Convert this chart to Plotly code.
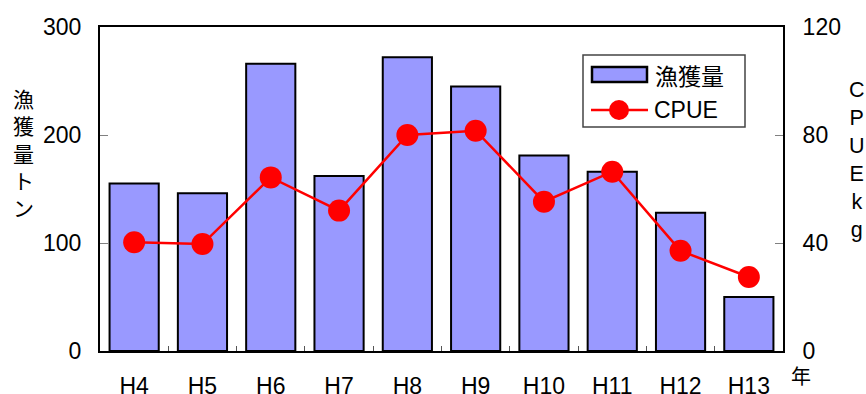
import plotly.graph_objects as go

years = ["H4", "H5", "H6", "H7", "H8", "H9", "H10", "H11", "H12", "H13"]
catch_t = [155, 146, 266, 162, 272, 245, 181, 166, 128, 50]
cpue_kg = [40.3, 39.6, 64.3, 52.0, 80.0, 81.6, 55.3, 66.4, 37.1, 27.4]

FONT = "Liberation Sans, Arial, sans-serif"
JP = "Noto Sans CJK JP, sans-serif"

PAGE_W, PAGE_H = 866, 394
# plot area in page pixels: x 100..783, y 27..351
L, R, T, B = 100, 783, 27, 351
W, H = R - L, B - T
def px(x):
    return (x - L) / W
def py(y):
    return (B - y) / H

fig = go.Figure()
fig.add_trace(go.Bar(
    x=years, y=catch_t, name="漁獲量",
    marker=dict(color="#9999FF", line=dict(color="black", width=2)),
    yaxis="y", showlegend=False,
))
fig.add_trace(go.Scatter(
    x=years, y=cpue_kg, name="CPUE", mode="lines+markers",
    line=dict(color="#FF0000", width=2.5),
    marker=dict(color="#FF0000", size=22),
    yaxis="y2", showlegend=False,
))

fig.update_layout(
    width=PAGE_W, height=PAGE_H,
    margin=dict(l=L, r=PAGE_W - R, t=T, b=PAGE_H - B, pad=0, autoexpand=False),
    paper_bgcolor="white", plot_bgcolor="white",
    bargap=0.28,
    font=dict(family=FONT, size=23, color="black"),
    xaxis=dict(
        type="category", range=[-0.5, len(years) - 0.5],
        showline=True, linecolor="black", linewidth=2,
        mirror=True, ticks="inside", ticklen=5, tickcolor="#555555",
        tickson="boundaries", showgrid=False, zeroline=False, automargin=False,
        tickfont=dict(size=23), ticklabelstandoff=13,
    ),
    yaxis=dict(
        range=[0, 300], dtick=100, showline=True, linecolor="black",
        linewidth=2, mirror=True, ticks="inside", ticklen=8,
        tickcolor="#808080", showgrid=False, zeroline=False, automargin=False,
        tickfont=dict(size=23), ticklabelstandoff=12,
    ),
    yaxis2=dict(
        range=[0, 120], dtick=40, overlaying="y", side="right",
        showline=True, linecolor="black", linewidth=2,
        ticks="inside", ticklen=8, tickcolor="#808080", automargin=False,
        showgrid=False, zeroline=False,
        tickfont=dict(size=23), ticklabelstandoff=13,
    ),
)

annotations = [
    dict(text="漁<br>獲<br>量<br>ト<br>ン", x=px(23), y=py(152), xref="paper", yref="paper",
         showarrow=False, xanchor="center", yanchor="middle",
         font=dict(family=JP, size=21, color="black")),
    dict(text="C<br>P<br>U<br>E<br>k<br>g", x=px(857), y=py(160), xref="paper", yref="paper",
         showarrow=False, xanchor="center", yanchor="middle",
         font=dict(family=FONT, size=21.5, color="black")),
    dict(text="年", x=px(801), y=py(376), xref="paper", yref="paper",
         showarrow=False, xanchor="center", yanchor="middle",
         font=dict(family=JP, size=20, color="black")),
    dict(text="漁獲量", x=px(653), y=py(75), xref="paper", yref="paper",
         showarrow=False, xanchor="left", yanchor="middle",
         font=dict(family=JP, size=23, color="black")),
    dict(text="CPUE", x=px(652), y=py(110), xref="paper", yref="paper",
         showarrow=False, xanchor="left", yanchor="middle",
         font=dict(family=FONT, size=23, color="black")),
]

shapes = [
    dict(type="rect", xref="paper", yref="paper", x0=px(583), x1=px(745),
         y0=py(127), y1=py(55), line=dict(color="#444444", width=1.5),
         fillcolor="white", layer="above"),
    dict(type="rect", xref="paper", yref="paper", x0=px(592), x1=px(647),
         y0=py(82), y1=py(67), line=dict(color="black", width=2.5),
         fillcolor="#9999FF", layer="above"),
    dict(type="line", xref="paper", yref="paper", x0=px(591), x1=px(648),
         y0=py(110), y1=py(110), line=dict(color="#FF0000", width=2.5),
         layer="above"),
    dict(type="circle", xref="paper", yref="paper", xsizemode="pixel",
         ysizemode="pixel", xanchor=px(619), yanchor=py(110),
         x0=-10, x1=10, y0=-10, y1=10, line=dict(color="#FF0000", width=0),
         fillcolor="#FF0000", layer="above"),
]

fig.update_layout(annotations=annotations, shapes=shapes)

# remove the page's default body margin so the figure fills the window exactly
post = ("document.documentElement.style.margin='0';"
        "document.body.style.margin='0';"
        "document.documentElement.style.overflow='hidden';"
        "document.body.style.overflow='hidden';")
fig.write_html("out.html", post_script=post, config={"displayModeBar": False})
